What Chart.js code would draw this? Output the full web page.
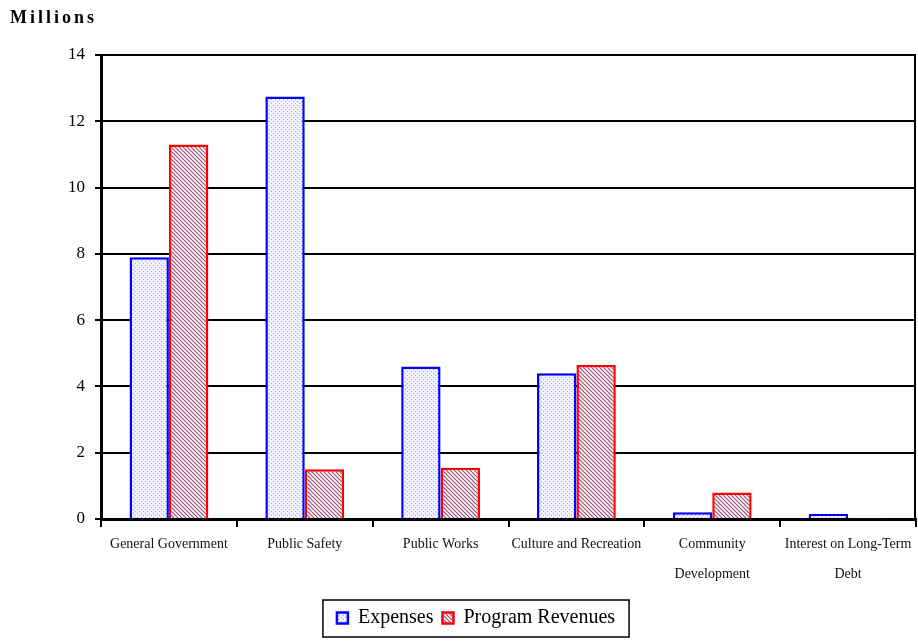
<!DOCTYPE html>
<html>
<head>
<meta charset="utf-8">
<script src="https://cdn.jsdelivr.net/npm/chart.js@4/dist/chart.umd.min.js"></script>
<style>
    html, body { margin: 0; padding: 0; background: #fff; }
    #wrap { width: 918px; height: 644px; position: relative; }
</style>
</head>
<body>
<div id="wrap"><canvas id="fundChart" width="918" height="644"></canvas></div>
<script>
// Data (millions)
const categories = [
    'General Government',
    'Public Safety',
    'Public Works',
    'Culture and Recreation',
    ['Community', 'Development'],
    ['Interest on Long-Term', 'Debt']
];
const expenses = [7.9, 12.75, 4.6, 4.4, 0.2, 0.15];
const programRevenues = [11.3, 1.5, 1.55, 4.65, 0.8, 0.02];
const yTicks = [0, 2, 4, 6, 8, 10, 12, 14];

const serif = "'Liberation Serif', 'DejaVu Serif', serif";

// Fill patterns
function dotPattern() {
    const c = document.createElement('canvas');
    c.width = 4; c.height = 4;
    const g = c.getContext('2d');
    g.fillStyle = '#f0f0ff';
    g.fillRect(0, 0, 4, 4);
    g.fillStyle = '#a4a4f0';
    g.fillRect(1, 1, 1, 1);
    g.fillRect(3, 3, 1, 1);
    return g.createPattern(c, 'repeat');
}

function hatchPattern() {
    const c = document.createElement('canvas');
    c.width = 4; c.height = 4;
    const g = c.getContext('2d');
    g.fillStyle = '#ffffff';
    g.fillRect(0, 0, 4, 4);
    g.strokeStyle = '#a04c74';
    g.lineWidth = 1.2;
    g.beginPath();
    g.moveTo(-1, -1); g.lineTo(5, 5);
    g.moveTo(-1, 3); g.lineTo(1, 5);
    g.moveTo(3, -1); g.lineTo(5, 1);
    g.stroke();
    return g.createPattern(c, 'repeat');
}

// Title, right border and legend frame
const extras = {
    id: 'extras',
    afterDraw(chart) {
        const ctx = chart.ctx;
        const area = chart.chartArea;
        ctx.save();
        ctx.fillStyle = '#000';
        ctx.font = 'bold 18px ' + serif;
        ctx.letterSpacing = '3px';
        ctx.textBaseline = 'middle';
        ctx.fillText('Millions', 10, 18);
        ctx.letterSpacing = '0px';

        ctx.strokeStyle = '#000';
        ctx.lineWidth = 2;
        ctx.beginPath();
        ctx.moveTo(area.right - 1, area.top);
        ctx.lineTo(area.right - 1, area.bottom);
        ctx.stroke();

        const boxes = chart.legend.legendHitBoxes;
        if (boxes && boxes.length) {
            const left = Math.min(...boxes.map(b => b.left)) - 14;
            const right = Math.max(...boxes.map(b => b.left + b.width)) + 14;
            ctx.lineWidth = 1.5;
            ctx.strokeRect(left, chart.legend.top + 1, right - left, chart.legend.height - 2);
        }
        ctx.restore();
    }
};

new Chart(document.getElementById('fundChart'), {
    type: 'bar',
    data: {
        labels: categories,
        datasets: [{
            label: 'Expenses',
            data: expenses,
            backgroundColor: dotPattern(),
            borderColor: '#0000ff',
            borderWidth: 2.5
        }, {
            label: 'Program Revenues',
            data: programRevenues,
            backgroundColor: hatchPattern(),
            borderColor: '#ff0000',
            borderWidth: 2.5
        }]
    },
    options: {
        responsive: false,
        animation: false,
        categoryPercentage: 0.58,
        barPercentage: 1.0,
        layout: {
            padding: { top: 55, left: 36, right: 2, bottom: 6 }
        },
        plugins: {
            title: { display: false },
            tooltip: { enabled: false },
            legend: {
                position: 'bottom',
                labels: {
                    font: { family: serif, size: 20 },
                    color: '#000',
                    boxWidth: 11,
                    boxHeight: 11,
                    padding: 9
                }
            }
        },
        scales: {
            x: {
                afterFit: (scale) => { scale.height = 80; },
                border: { color: '#000', width: 3 },
                grid: {
                    offset: true,
                    drawOnChartArea: false,
                    drawTicks: true,
                    tickLength: 8,
                    color: '#000',
                    lineWidth: 2
                },
                ticks: {
                    autoSkip: false,
                    maxRotation: 0,
                    padding: 2,
                    color: '#111',
                    font: { family: serif, size: 14, lineHeight: 2.14 }
                }
            },
            y: {
                min: 0,
                max: 14,
                afterFit: (scale) => { scale.width = 65; },
                afterBuildTicks: (scale) => {
                    scale.ticks = yTicks.map(v => ({ value: v }));
                },
                border: { color: '#000', width: 3 },
                grid: {
                    color: '#000',
                    lineWidth: 2,
                    tickLength: 6
                },
                ticks: {
                    padding: 10,
                    color: '#000',
                    font: { family: serif, size: 17 }
                }
            }
        }
    },
    plugins: [extras]
});
</script>
</body>
</html>
